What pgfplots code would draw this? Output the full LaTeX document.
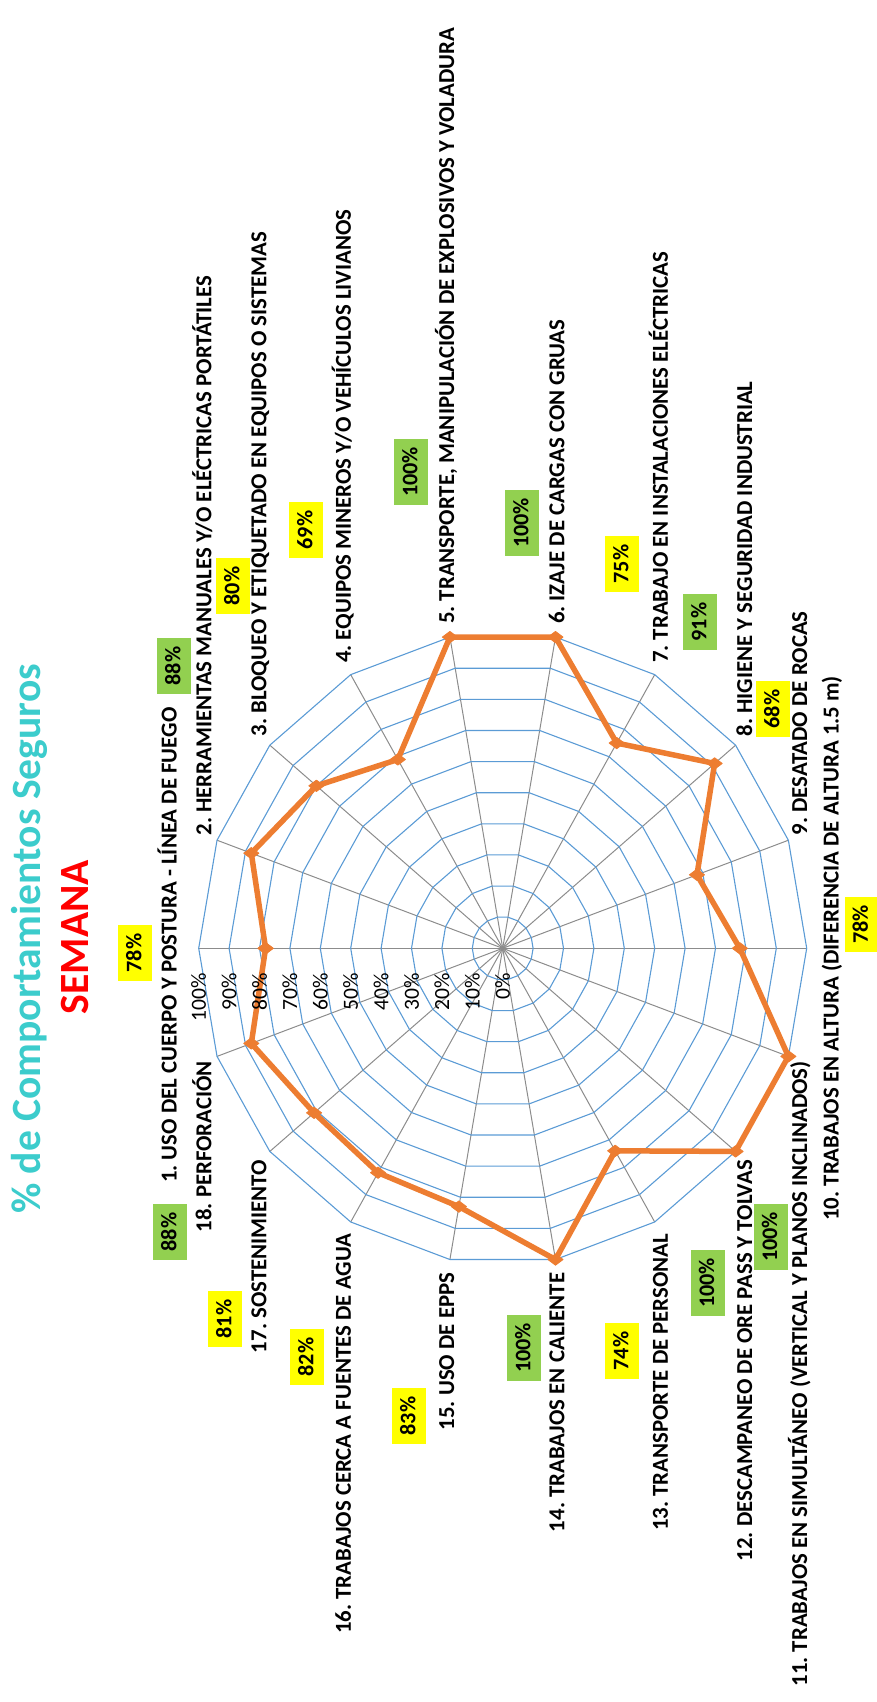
\documentclass[border=0pt]{standalone}
\usepackage{fontspec}
\setmainfont{Carlito}
\usepackage{pgfplots}
\pgfplotsset{compat=1.18}

\definecolor{ringblue}{HTML}{5B9BD5}
\definecolor{spokegray}{HTML}{8C8C8C}
\definecolor{lineorange}{HTML}{ED7D31}
\definecolor{okgreen}{HTML}{92D050}
\definecolor{warnyellow}{HTML}{FFFF00}
\definecolor{titlecyan}{HTML}{3CCCCC}

\begin{document}
\frenchspacing
\begin{tikzpicture}
% radar: angle / percent, drawn in a cartesian axis
\begin{axis}[
    at={(251.35pt,-474.15pt)}, anchor=origin,
    x=1.52pt, y=1.58pt,
    xmin=-100, xmax=100, ymin=-100, ymax=100,
    hide axis, clip=false,
    data cs=polar,
]
\pgfplotsinvokeforeach{-160,-140,...,180}{
    \addplot[spokegray, line width=0.5pt, mark=none] coordinates {(#1,0) (#1,100)};
}
\pgfplotsinvokeforeach{10,20,...,100}{
    \addplot[ringblue, line width=0.55pt, mark=none] coordinates {
        (180,#1) (160,#1) (140,#1) (120,#1) (100,#1) (80,#1) (60,#1)
        (40,#1) (20,#1) (0,#1) (-20,#1) (-40,#1) (-60,#1) (-80,#1)
        (-100,#1) (-120,#1) (-140,#1) (-160,#1) (180,#1)};
}
\addplot[lineorange, line width=2.75pt, line join=round,
    mark=diamond*, mark size=3.8pt,
    mark options={solid, rotate=90, fill=lineorange, line width=0.4pt}]
coordinates {
    (180,78) (160,88) (140,80) (120,69) (100,100) (80,100)
    (60,75) (40,91) (20,68) (0,78) (-20,100) (-40,100)
    (-60,74) (-80,100) (-100,83) (-120,82) (-140,81) (-160,88)
    (180,78)
};
\end{axis}

\begin{scope}[x=0.5pt, y=-0.5pt]
% titles
\node[rotate=90, anchor=base, text=titlecyan,
    font=\fontsize{20.8}{24}\selectfont\bfseries] at (40,939)
    {\% de Comportamientos Seguros};
\node[rotate=90, anchor=base, text=red,
    font=\fontsize{20.8}{24}\selectfont\bfseries] at (88,937) {SEMANA};

% scale labels
\foreach \v in {0,10,...,100}
    \node[rotate=90, anchor=east, inner sep=0pt,
        font=\fontsize{10.8}{12}\selectfont] at ({502.7-3.04*\v},973) {\v\%};

% category labels
\tikzset{cat/.style={rotate=90, inner sep=0pt, text height=0.66em, text depth=0pt,
    font=\fontsize{11.4}{13}\selectfont\bfseries}}
\node[cat, anchor=east] at (170,707) {1. USO DEL CUERPO Y POSTURA - LÍNEA DE FUEGO};
\node[cat, anchor=west] at (204.8,835.8) {2. HERRAMIENTAS MANUALES Y/O ELÉCTRICAS PORTÁTILES};
\node[cat, anchor=west] at (259.8,736.8) {3. BLOQUEO Y ETIQUETADO EN EQUIPOS O SISTEMAS};
\node[cat, anchor=west] at (344.2,663.3) {4. EQUIPOS MINEROS Y/O VEHÍCULOS LIVIANOS};
\node[cat, anchor=west] at (447.6,624.3) {5. TRANSPORTE, MANIPULACIÓN DE EXPLOSIVOS Y VOLADURA};
\node[cat, anchor=west] at (557.8,624.3) {6. IZAJE DE CARGAS CON GRUAS};
\node[cat, anchor=west] at (661.2,663.3) {7. TRABAJO EN INSTALACIONES ELÉCTRICAS};
\node[cat, anchor=west] at (745.6,736.8) {8. HIGIENE Y SEGURIDAD INDUSTRIAL};
\node[cat, anchor=west] at (800.6,835.8) {9. DESATADO DE ROCAS};
\node[cat, anchor=center] at (832,948.3) {10. TRABAJOS EN ALTURA (DIFERENCIA DE ALTURA 1.5 m)};
\node[cat, anchor=east] at (800.6,1060.8) {11. TRABAJOS EN SIMULTÁNEO (VERTICAL Y PLANOS INCLINADOS)};
\node[cat, anchor=east] at (745.6,1159.8) {12. DESCAMPANEO DE ORE PASS Y TOLVAS};
\node[cat, anchor=east] at (661.2,1233.3) {13. TRANSPORTE DE PERSONAL};
\node[cat, anchor=east] at (557.8,1272.3) {14. TRABAJOS EN CALIENTE};
\node[cat, anchor=east] at (447.6,1272.3) {15. USO DE EPPS};
\node[cat, anchor=east] at (344.2,1233.3) {16. TRABAJOS CERCA A FUENTES DE AGUA};
\node[cat, anchor=east] at (259.8,1159.8) {17. SOSTENIMIENTO};
\node[cat, anchor=east] at (204.8,1060.8) {18. PERFORACIÓN};

% value boxes
\tikzset{box/.style={rotate=90, inner xsep=4.2pt, inner ysep=0pt, minimum height=17pt,
    text height=0.64em, text depth=0pt, font=\fontsize{11.1}{13}\selectfont\bfseries}}
\node[box, fill=warnyellow] at (135,953) {78\%};
\node[box, fill=okgreen] at (174,666) {88\%};
\node[box, fill=warnyellow] at (233,586) {80\%};
\node[box, fill=warnyellow] at (306,530) {69\%};
\node[box, fill=okgreen] at (411,472) {100\%};
\node[box, fill=okgreen] at (522,523) {100\%};
\node[box, fill=warnyellow] at (622,564) {75\%};
\node[box, fill=okgreen] at (700,622) {91\%};
\node[box, fill=warnyellow] at (773,709) {68\%};
\node[box, fill=warnyellow] at (861.5,924.5) {78\%};
\node[box, fill=okgreen] at (770.6,1237) {100\%};
\node[box, fill=okgreen] at (707.7,1283) {100\%};
\node[box, fill=warnyellow] at (622,1351) {74\%};
\node[box, fill=okgreen] at (524,1348) {100\%};
\node[box, fill=warnyellow] at (409,1416) {83\%};
\node[box, fill=warnyellow] at (307,1357) {82\%};
\node[box, fill=warnyellow] at (225,1319) {81\%};
\node[box, fill=okgreen] at (170,1232) {88\%};

\pgfresetboundingbox
\path[use as bounding box] (0,0) rectangle (877,1702);
\end{scope}
\end{tikzpicture}
\end{document}
